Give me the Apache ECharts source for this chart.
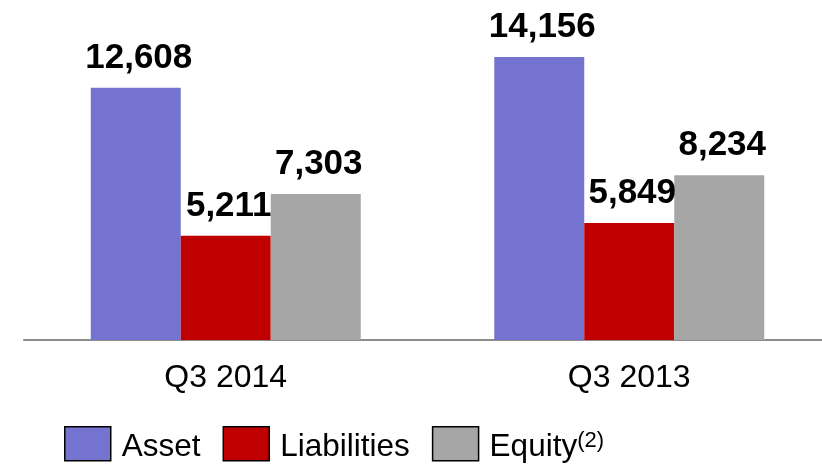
<!DOCTYPE html>
<html>
<head>
<meta charset="utf-8">
<script src="https://cdn.jsdelivr.net/npm/echarts@6/dist/echarts.min.js"></script>
<style>
html,body{margin:0;padding:0;background:#fff;overflow:hidden}
#chart{width:831px;height:464px}
</style>
</head>
<body>
<div id="chart"></div>
<script>
var quarters = ['Q3 2014', 'Q3 2013']
var seriesNames = ['Asset', 'Liabilities', 'Equity']
var asset = [12608, 14156]
var liabilities = [5211, 5849]
var equity = [7303, 8234]
var colors = ['#7474D0', '#C00000', '#A6A6A6']

var chart = echarts.init(document.getElementById('chart'))

var fmt = function (p) { return p.value.toLocaleString('en-US') }
var makeBar = function (name, data, color) {
    return {
        name: name, type: 'bar', data: data,
        barWidth: 90, barGap: '0%',
        itemStyle: {color: color},
        label: {
            show: true, position: 'top', distance: 12, offset: [3, 0],
            formatter: fmt,
            fontFamily: 'Liberation Sans', fontWeight: 'bold', fontSize: 35, color: '#000'
        }
    }
}

var options = {
    animation: false,
    grid: {left: 24, right: 0, top: 40, height: 300},
    legend: {
        left: 64, top: 426, padding: 0,
        icon: 'rect', itemWidth: 46, itemHeight: 34, itemGap: 22,
        itemStyle: {borderColor: '#000', borderWidth: 1.5},
        formatter: function (name) { return name == 'Equity' ? 'Equity{sup|(2)}' : name },
        textStyle: {
            fontFamily: 'Liberation Sans', fontSize: 31.5, color: '#000', padding: [8, 0, 0, 6],
            rich: {sup: {fontFamily: 'Liberation Sans', fontSize: 22, color: '#000', verticalAlign: 'top', padding: [0, 0, 14, 0]}}
        },
        data: seriesNames
    },
    xAxis: {
        type: 'category', data: quarters,
        axisLine: {lineStyle: {color: '#8c8c8c', width: 2}},
        axisTick: {show: false},
        axisLabel: {margin: 22, fontFamily: 'Liberation Sans', fontSize: 32, color: '#000'}
    },
    yAxis: {type: 'value', min: 0, max: 15000, show: false, splitLine: {show: false}},
    series: []
}
options.series.push(makeBar(seriesNames[0], asset, colors[0]))
options.series.push(makeBar(seriesNames[1], liabilities, colors[1]))
options.series.push(makeBar(seriesNames[2], equity, colors[2]))

chart.setOption(options)
</script>
</body>
</html>
